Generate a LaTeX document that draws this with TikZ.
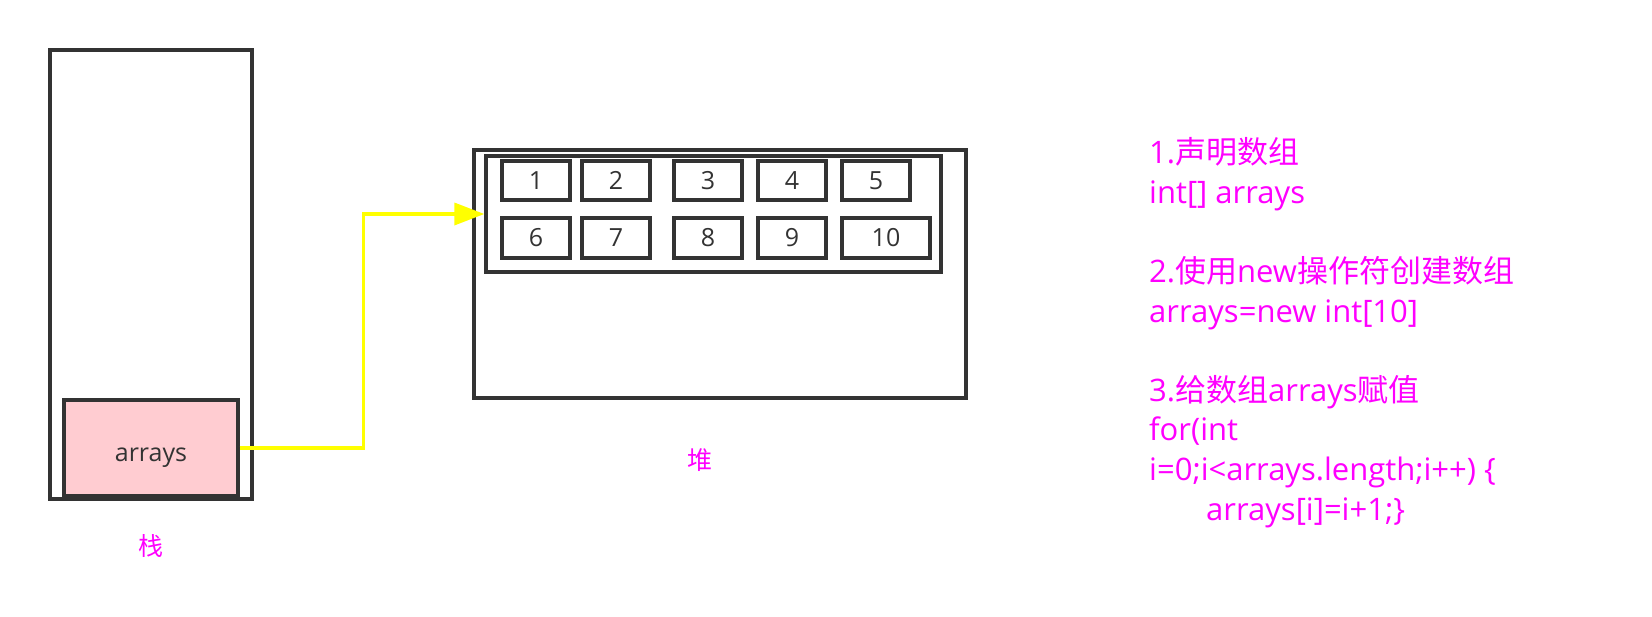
\documentclass[tikz,border=0pt]{standalone}
\usepackage{fontspec}
\setmainfont{Open Sans}
\newfontfamily\cjk{Noto Sans CJK SC}
\usepackage{xcolor}
\usepackage{tikz}
\usetikzlibrary{shapes,arrows.meta,positioning}

\definecolor{framegray}{HTML}{333333}
\definecolor{notemagenta}{HTML}{FF00FF}
\definecolor{varpink}{RGB}{255,204,209}
\definecolor{refyellow}{HTML}{FFFF00}

\tikzset{
    box/.style={
        draw=framegray,
        line width=3.3pt,
        inner sep=0pt,
        text=framegray,
        font=\fontsize{25}{30}\selectfont
    },
    cell/.style={
        box,
        minimum width=68pt,
        minimum height=39pt
    },
    area/.style={
        text=notemagenta,
        font=\cjk\fontsize{25}{30}\selectfont
    },
    note/.style={
        text=notemagenta,
        align=left,
        inner sep=0pt,
        font=\fontsize{31}{39.6}\selectfont
    },
    ref/.style={
        draw=refyellow,
        line width=3.5pt,
        -{Triangle[length=30pt,width=22pt]}
    }
}

\begin{document}
\begin{tikzpicture}[x=1pt,y=-1pt]
                \useasboundingbox (0,0) rectangle (1652,616);

                \node[
                    box,
                    minimum width=202pt,
                    minimum height=449pt
                    ] (stack) at (151,274.5) {};

                \node[
                    box,
                    fill=varpink,
                    text height=26pt,
                    text depth=0pt,
                    minimum width=174pt,
                    minimum height=96pt
                    ] (arrvar) at (151,448) {arrays};

                \node[area] (stacklabel) at (151,546) {栈};

                \node[
                    box,
                    minimum width=492pt,
                    minimum height=248pt
                    ] (heap) at (720,274) {};

                \node[
                    box,
                    minimum width=455pt,
                    minimum height=116pt
                    ] (heapin) at (713.5,214) {};

                \foreach \n/\x in {1/536,2/616,3/708,4/792,5/876}
                    \node[cell] (c\n) at (\x,180.5) {\n};

                \foreach \n/\x in {6/536,7/616,8/708,9/792}
                    \node[cell, minimum height=40pt] (c\n) at (\x,238) {\n};

                \node[
                    cell,
                    minimum width=88pt,
                    minimum height=40pt
                    ] (c10) at (886,238) {10};

                \node[area] (heaplabel) at (700,460) {堆};

                \draw[ref] (arrvar.east) -- ++(124,0) |- (heapin.west);

                \node[note, anchor=base west] (steps) at (1149,520) {1.{\cjk 声明数组}\\
                    int[] arrays\\[39.6pt]
                    2.{\cjk 使用}new{\cjk 操作符创建数组}\\
                    arrays=new int[10]\\[39.6pt]
                    3.{\cjk 给数组}arrays{\cjk 赋值}\\
                    for(int\\
                    i=0;i<arrays.length;i++) \{\\
                    \hspace*{57pt}arrays[i]=i+1;\}};

            \end{tikzpicture}
\end{document}
